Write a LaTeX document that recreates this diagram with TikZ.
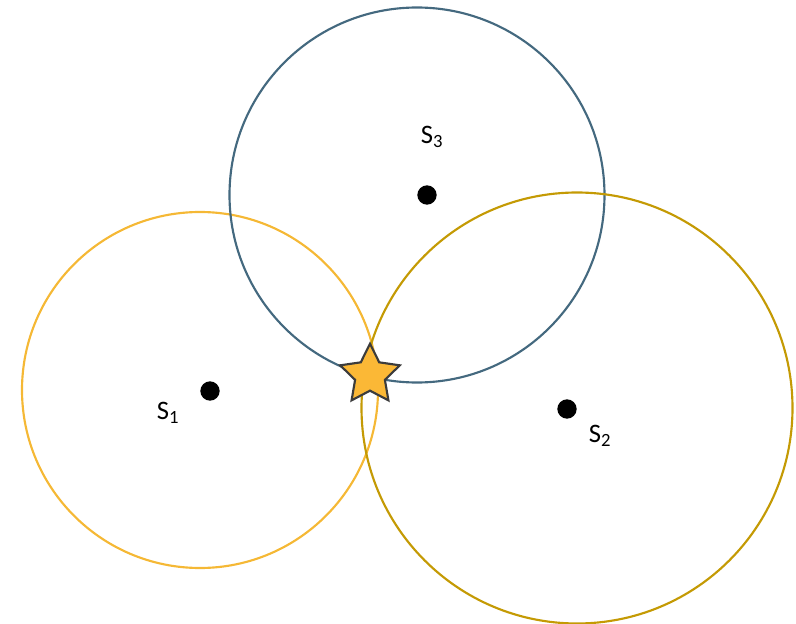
\documentclass[tikz,border=0pt]{standalone}
\usepackage{fontspec}
\setmainfont{Carlito}
\usepackage{tikz}
\usetikzlibrary{shapes.geometric}
\definecolor{ringgold}{HTML}{F5B835}
\definecolor{ringslate}{HTML}{44697F}
\definecolor{ringochre}{HTML}{C49A04}
\definecolor{starfill}{HTML}{FBB836}
\definecolor{starline}{HTML}{3C3C3C}

\begin{document}
\begin{tikzpicture}[x=0.75pt, y=-0.75pt,
  ring/.style={line width=1.6pt},
  anchorpt/.style={circle, fill=black, inner sep=0pt, minimum size=14.5pt},
  sitelabel/.style={font=\fontsize{20}{24}\selectfont, inner sep=0pt},
  target/.style={star, star points=5, star point ratio=2.0, draw=starline,
                 fill=starfill, line width=1.6pt, minimum size=47pt, inner sep=0pt}]
\useasboundingbox (0,0) rectangle (796,624);
% ranges
\coordinate (c1) at (200,390);
\coordinate (c3) at (417,195);
\coordinate (c2) at (577,408);
\draw[ring, ringgold] (c1) circle [radius=178];
\draw[ring, ringslate] (c3) circle [radius=187.5];
\draw[ring, ringochre] (c2) circle [radius=215.5];
% stations
\node[anchorpt] (s1) at (210,391) {};
\node[anchorpt] (s2) at (567,409) {};
\node[anchorpt] (s3) at (427,195) {};
\node[sitelabel] (l1) at (168,413) {S\textsubscript{1}};
\node[sitelabel] (l2) at (600,436) {S\textsubscript{2}};
\node[sitelabel] (l3) at (432,137) {S\textsubscript{3}};
% estimated position
\node[target] (pos) at (370,375) {};
\end{tikzpicture}
\end{document}
